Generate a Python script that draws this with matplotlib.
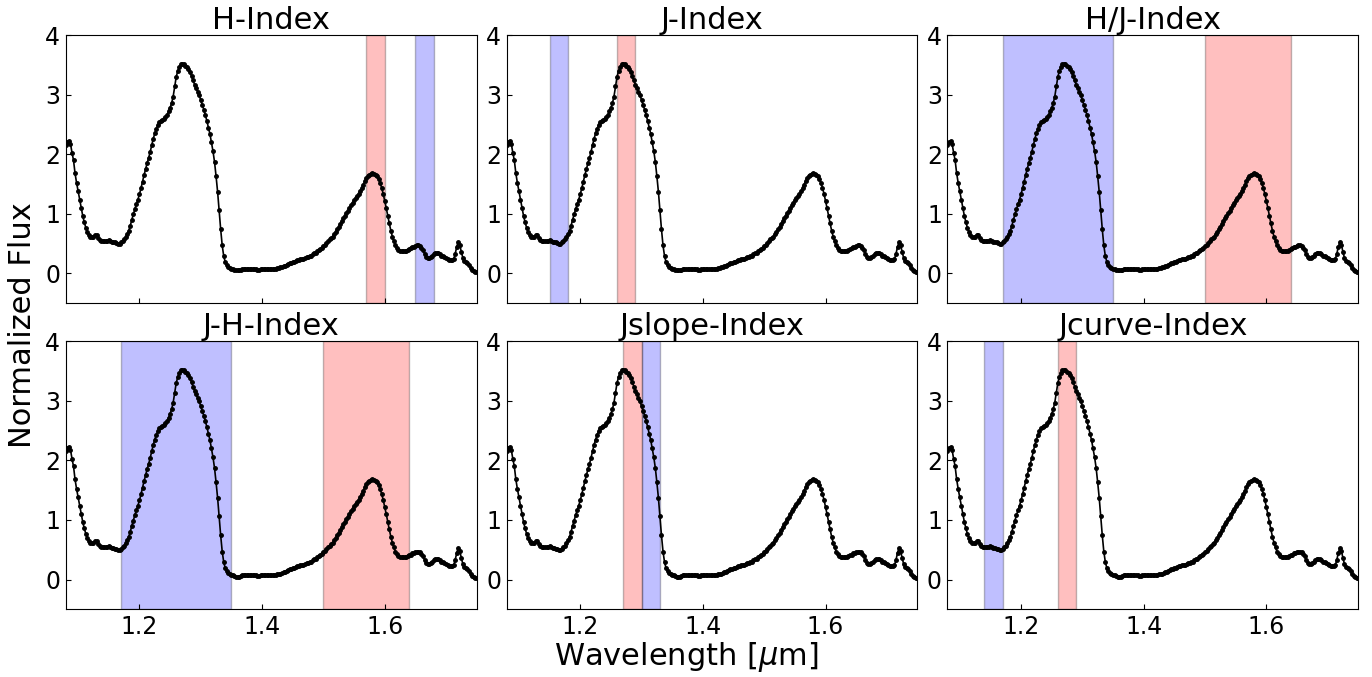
import numpy as np
import matplotlib
matplotlib.use('Agg')
import matplotlib.pyplot as plt

# normalized spectrum, 1.08 - 1.75 um in 0.0025 um steps
flux = [
    2.15, 2.20, 2.22, 2.18, 2.03, 1.90, 1.68, 1.52, 1.38, 1.24,
    1.10, 0.97, 0.86, 0.77, 0.70, 0.65, 0.62, 0.61, 0.62, 0.65,
    0.65, 0.60, 0.56, 0.55, 0.54, 0.54, 0.54, 0.55, 0.56, 0.55,
    0.53, 0.53, 0.52, 0.51, 0.50, 0.50, 0.52, 0.54, 0.57, 0.61,
    0.66, 0.72, 0.80, 0.90, 0.99, 1.08, 1.16, 1.24, 1.33, 1.43,
    1.54, 1.65, 1.75, 1.85, 1.94, 2.04, 2.15, 2.26, 2.35, 2.43,
    2.49, 2.54, 2.56, 2.57, 2.59, 2.62, 2.66, 2.72, 2.78, 2.86,
    2.97, 3.14, 3.30, 3.40, 3.47, 3.51, 3.52, 3.51, 3.49, 3.46,
    3.43, 3.38, 3.31, 3.24, 3.17, 3.11, 3.05, 2.99, 2.91, 2.83,
    2.75, 2.66, 2.56, 2.45, 2.34, 2.20, 2.05, 1.87, 1.63, 1.37,
    1.06, 0.74, 0.47, 0.29, 0.19, 0.14, 0.11, 0.09, 0.08, 0.07,
    0.06, 0.05, 0.05, 0.05, 0.06, 0.07, 0.07, 0.07, 0.07, 0.07,
    0.08, 0.08, 0.07, 0.07, 0.07, 0.06, 0.06, 0.07, 0.07, 0.07,
    0.07, 0.07, 0.07, 0.07, 0.07, 0.07, 0.08, 0.08, 0.09, 0.09,
    0.10, 0.11, 0.12, 0.13, 0.15, 0.16, 0.17, 0.18, 0.19, 0.20,
    0.21, 0.22, 0.23, 0.24, 0.25, 0.25, 0.26, 0.27, 0.28, 0.29,
    0.30, 0.32, 0.34, 0.35, 0.37, 0.39, 0.41, 0.43, 0.46, 0.48,
    0.51, 0.54, 0.57, 0.59, 0.62, 0.66, 0.70, 0.74, 0.78, 0.83,
    0.88, 0.93, 0.97, 1.01, 1.05, 1.10, 1.15, 1.19, 1.23, 1.27,
    1.30, 1.34, 1.38, 1.43, 1.49, 1.55, 1.60, 1.64, 1.66, 1.67,
    1.68, 1.67, 1.66, 1.63, 1.59, 1.52, 1.44, 1.34, 1.22, 1.10,
    0.97, 0.84, 0.72, 0.62, 0.54, 0.47, 0.43, 0.40, 0.38, 0.37,
    0.37, 0.37, 0.38, 0.39, 0.41, 0.42, 0.44, 0.45, 0.46, 0.47,
    0.47, 0.46, 0.43, 0.39, 0.33, 0.28, 0.26, 0.26, 0.27, 0.30,
    0.33, 0.35, 0.35, 0.34, 0.32, 0.30, 0.29, 0.28, 0.26, 0.24,
    0.23, 0.22, 0.22, 0.24, 0.33, 0.45, 0.53, 0.48, 0.36, 0.26,
    0.21, 0.19, 0.17, 0.14, 0.09, 0.06, 0.04, 0.03, 0.03,
]
wave = np.linspace(1.08, 1.75, len(flux))

titles = ['H-Index', 'J-Index', 'H/J-Index', 'J-H-Index', 'Jslope-Index', 'Jcurve-Index']
# (start, end) of the red and blue bands for each index
red_bands = [(1.57, 1.60), (1.26, 1.29), (1.50, 1.64), (1.50, 1.64), (1.27, 1.30), (1.26, 1.29)]
blue_bands = [(1.65, 1.68), (1.15, 1.18), (1.17, 1.35), (1.17, 1.35), (1.30, 1.33), (1.14, 1.17)]

fig, axes = plt.subplots(2, 3, sharex=True, figsize=(13.72, 6.77), dpi=100)
plt.subplots_adjust(left=0.048, right=0.99, top=0.948, bottom=0.1, wspace=0.073, hspace=0.142)

for ax, title, rb, bb in zip(axes.flat, titles, red_bands, blue_bands):
    ax.axvspan(rb[0], rb[1], facecolor='red', edgecolor='k', alpha=0.25, linewidth=1)
    ax.axvspan(bb[0], bb[1], facecolor='blue', edgecolor='k', alpha=0.25, linewidth=1)
    ax.plot(wave, flux, 'k.-', markersize=5, linewidth=1.2)
    ax.set_title(title, fontsize=22, pad=3)
    ax.set_xlim(1.08, 1.75)
    ax.set_ylim(-0.5, 4)
    ax.set_yticks([0, 1, 2, 3, 4])
    ax.set_xticks([1.2, 1.4, 1.6])
    ax.tick_params(direction='in', labelsize=17, pad=4)

fig.text(0.5, 0.004, 'Wavelength [$\\mu$m]', ha='center', va='bottom', fontsize=22)
fig.text(0.006, 0.52, 'Normalized Flux', ha='left', va='center', rotation=90, fontsize=22)

plt.savefig('out.png')
